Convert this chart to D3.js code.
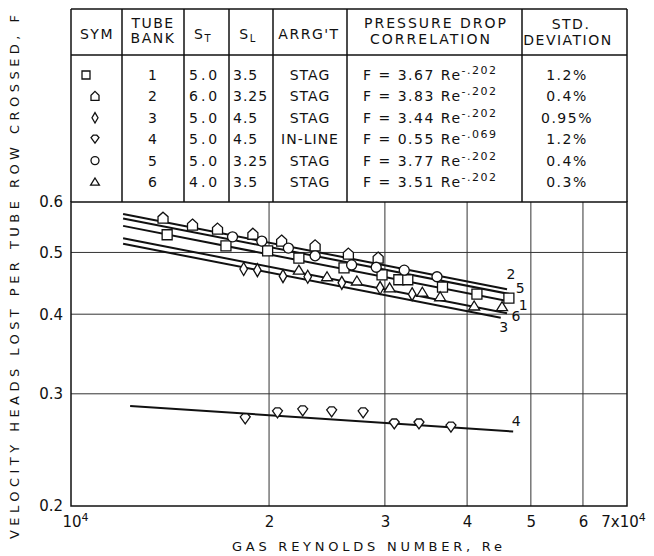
<!DOCTYPE html>
<html lang="en">
<head>
  <meta charset="UTF-8">
  <title>Velocity heads lost per tube row vs gas Reynolds number</title>
  <style>
    body {
      margin: 0;
      background: #fff;
    }

    svg text {
      font-family: 'DejaVu Sans', Arial, sans-serif;
      fill: #111;
    }

    .grid line {
      stroke: #333;
      stroke-width: 1;
    }

    .frame, .table line {
      stroke: #111;
      stroke-width: 1.5;
      fill: none;
    }

    .fit {
      stroke: #111;
      stroke-width: 2;
      fill: none;
    }

    .sym {
      fill: #fff;
      stroke: #111;
      stroke-width: 1.3;
    }

    .table text {
      font-size: 14px;
      letter-spacing: 1.5px;
    }
  </style>
</head>
<body>
  <svg width="654" height="556"></svg>

  <script src="https://d3js.org/d3.v7.min.js"></script>
  <script>
    // table columns, one entry per tube bank
    const banks = [1, 2, 3, 4, 5, 6];
    const symbolNames = ["square", "house", "diamond", "shield", "circle", "triangle"];
    const stValues = ["5.0", "6.0", "5.0", "5.0", "5.0", "4.0"];
    const slValues = ["3.5", "3.25", "4.5", "4.5", "3.25", "3.5"];
    const arrangement = ["STAG", "STAG", "STAG", "IN-LINE", "STAG", "STAG"];
    const coefC = [3.67, 3.83, 3.44, 0.55, 3.77, 3.51];
    const coefText = ["3.67", "3.83", "3.44", "0.55", "3.77", "3.51"];
    const exponent = [-0.202, -0.202, -0.202, -0.069, -0.202, -0.202];
    const exponentText = ["-.202", "-.202", "-.202", "-.069", "-.202", "-.202"];
    const stdDev = ["1.2%", "0.4%", "0.95%", "1.2%", "0.4%", "0.3%"];

    // range of Re (x 10^4) over which each correlation line is drawn
    const lineStartRe = [1.2, 1.2, 1.2, 1.23, 1.2, 1.2];
    const lineEndRe = [4.65, 4.6, 4.5, 4.7, 4.65, 4.6];

    // measured points, Re in units of 10^4
    const bank1Re = [1.40, 1.72, 1.99, 2.22, 2.60, 2.97, 3.15, 3.25, 3.67, 4.14, 4.63];
    const bank1F = [0.533, 0.512, 0.503, 0.490, 0.473, 0.461, 0.453, 0.453, 0.441, 0.430, 0.424];
    const bank2Re = [1.38, 1.53, 1.67, 1.89, 2.09, 2.35, 2.64, 2.93];
    const bank2F = [0.566, 0.552, 0.544, 0.534, 0.521, 0.512, 0.497, 0.490];
    const bank3Re = [1.83, 1.92, 2.10, 2.29, 2.58, 2.95, 3.30];
    const bank3F = [0.471, 0.469, 0.459, 0.458, 0.448, 0.440, 0.430];
    const bank4Re = [1.84, 2.06, 2.25, 2.49, 2.78, 3.10, 3.38, 3.78];
    const bank4F = [0.274, 0.280, 0.282, 0.281, 0.280, 0.269, 0.269, 0.266];
    const bank5Re = [1.76, 1.95, 2.14, 2.35, 2.67, 2.91, 3.21, 3.60];
    const bank5F = [0.529, 0.521, 0.508, 0.494, 0.478, 0.474, 0.469, 0.458];
    const bank6Re = [2.22, 2.45, 2.72, 3.05, 3.42, 3.64, 4.10, 4.52];
    const bank6F = [0.469, 0.458, 0.451, 0.440, 0.433, 0.426, 0.412, 0.411];

    // axis ticks
    const xTicks = [1e4, 2e4, 3e4, 4e4, 5e4, 6e4, 7e4];
    const xTickLabels = ["10", "2", "3", "4", "5", "6", "7x10"];
    const yTicks = [0.2, 0.3, 0.4, 0.5, 0.6];
    const xGrid = [2e4, 3e4, 4e4, 5e4, 6e4];
    const yGrid = [0.3, 0.4, 0.5];

    const pointsRe = [bank1Re, bank2Re, bank3Re, bank4Re, bank5Re, bank6Re];
    const pointsF = [bank1F, bank2F, bank3F, bank4F, bank5F, bank6F];

    const svg = d3.select("svg");

    const x = d3.scaleLog().domain([1e4, 7e4]).range([71, 627]);
    const y = d3.scaleLog().domain([0.2, 0.6]).range([506, 202]);

    // marker shapes, s = nominal size in px
    function symbolPath(name, s) {
      const h = s / 2;
      switch (name) {
        case "square":
          return `M${-h},${-h}H${h}V${h}H${-h}Z`;
        case "house":
          return `M0,${-h - 1}L${h},${-h * 0.3}V${h}H${-h}V${-h * 0.3}Z`;
        case "diamond":
          return `M0,${-h * 1.3}L${h * 0.75},0L0,${h * 1.3}L${-h * 0.75},0Z`;
        case "shield":
          return `M${-h},${-h * 0.4}L${-h * 0.45},${-h}H${h * 0.45}L${h},${-h * 0.4}L0,${h}Z`;
        case "circle":
          return `M${h},0A${h},${h} 0 1,1 ${-h},0A${h},${h} 0 1,1 ${h},0Z`;
        case "triangle":
          return `M0,${-h}L${h * 1.1},${h * 0.8}H${-h * 1.1}Z`;
      }
    }

    // grid
    const grid = svg.append("g").attr("class", "grid");
    grid.selectAll(".vx")
      .data(xGrid)
      .enter()
      .append("line")
      .attr("x1", (d) => x(d))
      .attr("x2", (d) => x(d))
      .attr("y1", y(0.6))
      .attr("y2", y(0.2));
    grid.selectAll(".hy")
      .data(yGrid)
      .enter()
      .append("line")
      .attr("x1", x(1e4))
      .attr("x2", x(7e4))
      .attr("y1", (d) => y(d))
      .attr("y2", (d) => y(d));

    svg.append("rect")
      .attr("class", "frame")
      .attr("x", x(1e4))
      .attr("y", y(0.6))
      .attr("width", x(7e4) - x(1e4))
      .attr("height", y(0.2) - y(0.6));

    // axes (labels only, the grid does the rest)
    const xAxis = svg.append("g")
      .attr("transform", `translate(0,${y(0.2)})`)
      .call(d3.axisBottom(x).tickValues(xTicks).tickSize(0).tickPadding(10)
        .tickFormat((d, i) => xTickLabels[i]));
    xAxis.select(".domain").remove();
    xAxis.selectAll("text")
      .attr("font-family", "'DejaVu Sans', Arial, sans-serif")
      .attr("font-size", 15)
      .attr("fill", "#111")
      .each(function (d, i) {
        if (i === 0 || i === xTicks.length - 1) {
          const t = d3.select(this);
          t.append("tspan").attr("font-size", 11).attr("dy", "-0.55em").text("4");
          if (i === xTicks.length - 1) t.attr("dx", -4);
          else t.attr("dx", 4);
        }
      });

    const yAxis = svg.append("g")
      .attr("transform", `translate(${x(1e4)},0)`)
      .call(d3.axisLeft(y).tickValues(yTicks).tickSize(0).tickPadding(8)
        .tickFormat(d3.format(".1f")));
    yAxis.select(".domain").remove();
    yAxis.selectAll("text")
      .attr("font-family", "'DejaVu Sans', Arial, sans-serif")
      .attr("font-size", 15)
      .attr("fill", "#111");

    svg.append("text")
      .attr("x", 367)
      .attr("y", 551)
      .attr("text-anchor", "middle")
      .attr("font-size", 13)
      .attr("textLength", 270)
      .attr("lengthAdjust", "spacing")
      .text("GAS  REYNOLDS  NUMBER, Re");

    svg.append("text")
      .attr("transform", "translate(19,277) rotate(-90)")
      .attr("text-anchor", "middle")
      .attr("font-size", 13)
      .attr("textLength", 524)
      .attr("lengthAdjust", "spacing")
      .text("VELOCITY  HEADS  LOST  PER  TUBE  ROW  CROSSED, F");

    // correlation lines F = C Re^n
    const fitLine = d3.line()
      .x((d) => x(d[0]))
      .y((d) => y(d[1]));

    const fits = svg.append("g");
    banks.forEach((b, i) => {
      const ends = [lineStartRe[i] * 1e4, lineEndRe[i] * 1e4];
      fits.append("path")
        .attr("class", "fit")
        .attr("d", fitLine(ends.map((r) => [r, coefC[i] * Math.pow(r, exponent[i])])));
    });

    // line labels at the right end
    const labelNudge = { 1: [13, 3], 2: [4, -15], 3: [3, 9], 4: [3, -11], 5: [10, -6], 6: [9, 3] };
    banks.forEach((b, i) => {
      const r = lineEndRe[i] * 1e4;
      svg.append("text")
        .attr("x", x(r) + labelNudge[b][0])
        .attr("y", y(coefC[i] * Math.pow(r, exponent[i])) + labelNudge[b][1])
        .attr("dy", "0.36em")
        .attr("text-anchor", "middle")
        .attr("font-size", 14)
        .text(b);
    });

    // measured points
    const pts = svg.append("g");
    banks.forEach((b, i) => {
      pts.selectAll(".b" + b)
        .data(d3.zip(pointsRe[i], pointsF[i]))
        .enter()
        .append("path")
        .attr("class", "sym b" + b)
        .attr("transform", (d) => `translate(${x(d[0] * 1e4)},${y(d[1])})`)
        .attr("d", symbolPath(symbolNames[i], 10));
    });

    // table above the plot
    const table = svg.append("g").attr("class", "table");
    const colEdges = [71, 122, 184, 229, 273, 347, 522, 627];
    const tTop = 9, tHead = 55, tBottom = y(0.6);

    colEdges.forEach((cx) => {
      table.append("line").attr("x1", cx).attr("x2", cx).attr("y1", tTop).attr("y2", tBottom);
    });
    [tTop, tHead].forEach((ly) => {
      table.append("line").attr("x1", colEdges[0]).attr("x2", colEdges[7]).attr("y1", ly).attr("y2", ly);
    });

    function headText(cx, cy, txt) {
      return table.append("text")
        .attr("x", cx)
        .attr("y", cy)
        .attr("dy", "0.36em")
        .attr("text-anchor", "middle")
        .text(txt);
    }
    headText(97, 34, "SYM");
    headText(153, 23, "TUBE");
    headText(153, 38, "BANK");
    headText(203, 34, "S").append("tspan").attr("font-size", 10).attr("dy", 3).text("T");
    headText(248, 34, "S").append("tspan").attr("font-size", 10).attr("dy", 3).text("L");
    headText(309, 34, "ARRG'T");
    headText(436, 23, "PRESSURE  DROP").style("letter-spacing", "2px");
    headText(431, 39, "CORRELATION").style("letter-spacing", "2px");
    headText(571, 24, "STD.");
    headText(568, 40, "DEVIATION");

    const row = d3.scalePoint().domain(banks).range([75, 182]);

    table.selectAll(".tsym")
      .data(banks)
      .enter()
      .append("path")
      .attr("class", "sym")
      .attr("transform", (d) => `translate(${d === 1 ? 86 : 95},${row(d)})`)
      .attr("d", (d, i) => symbolPath(symbolNames[i], 8));

    function cell(cx, anchor, values, spacing) {
      table.selectAll(null)
        .data(banks)
        .enter()
        .append("text")
        .attr("x", cx)
        .attr("y", (d) => row(d))
        .attr("dy", "0.36em")
        .attr("text-anchor", anchor)
        .style("letter-spacing", spacing + "px")
        .text((d, i) => values[i]);
    }
    cell(153, "middle", banks, 1);
    cell(189, "start", stValues, 3);
    cell(233, "start", slValues, 1);
    cell(310, "middle", arrangement, 1);
    cell(567, "middle", stdDev, 1.5);

    table.selectAll(".corr")
      .data(banks)
      .enter()
      .append("text")
      .attr("x", 363)
      .attr("y", (d) => row(d))
      .attr("dy", "0.36em")
      .text((d, i) => `F = ${coefText[i]} Re`)
      .append("tspan")
      .attr("font-size", 11)
      .attr("dy", -6)
      .text((d, i) => exponentText[i]);
  </script>
</body>
</html>
